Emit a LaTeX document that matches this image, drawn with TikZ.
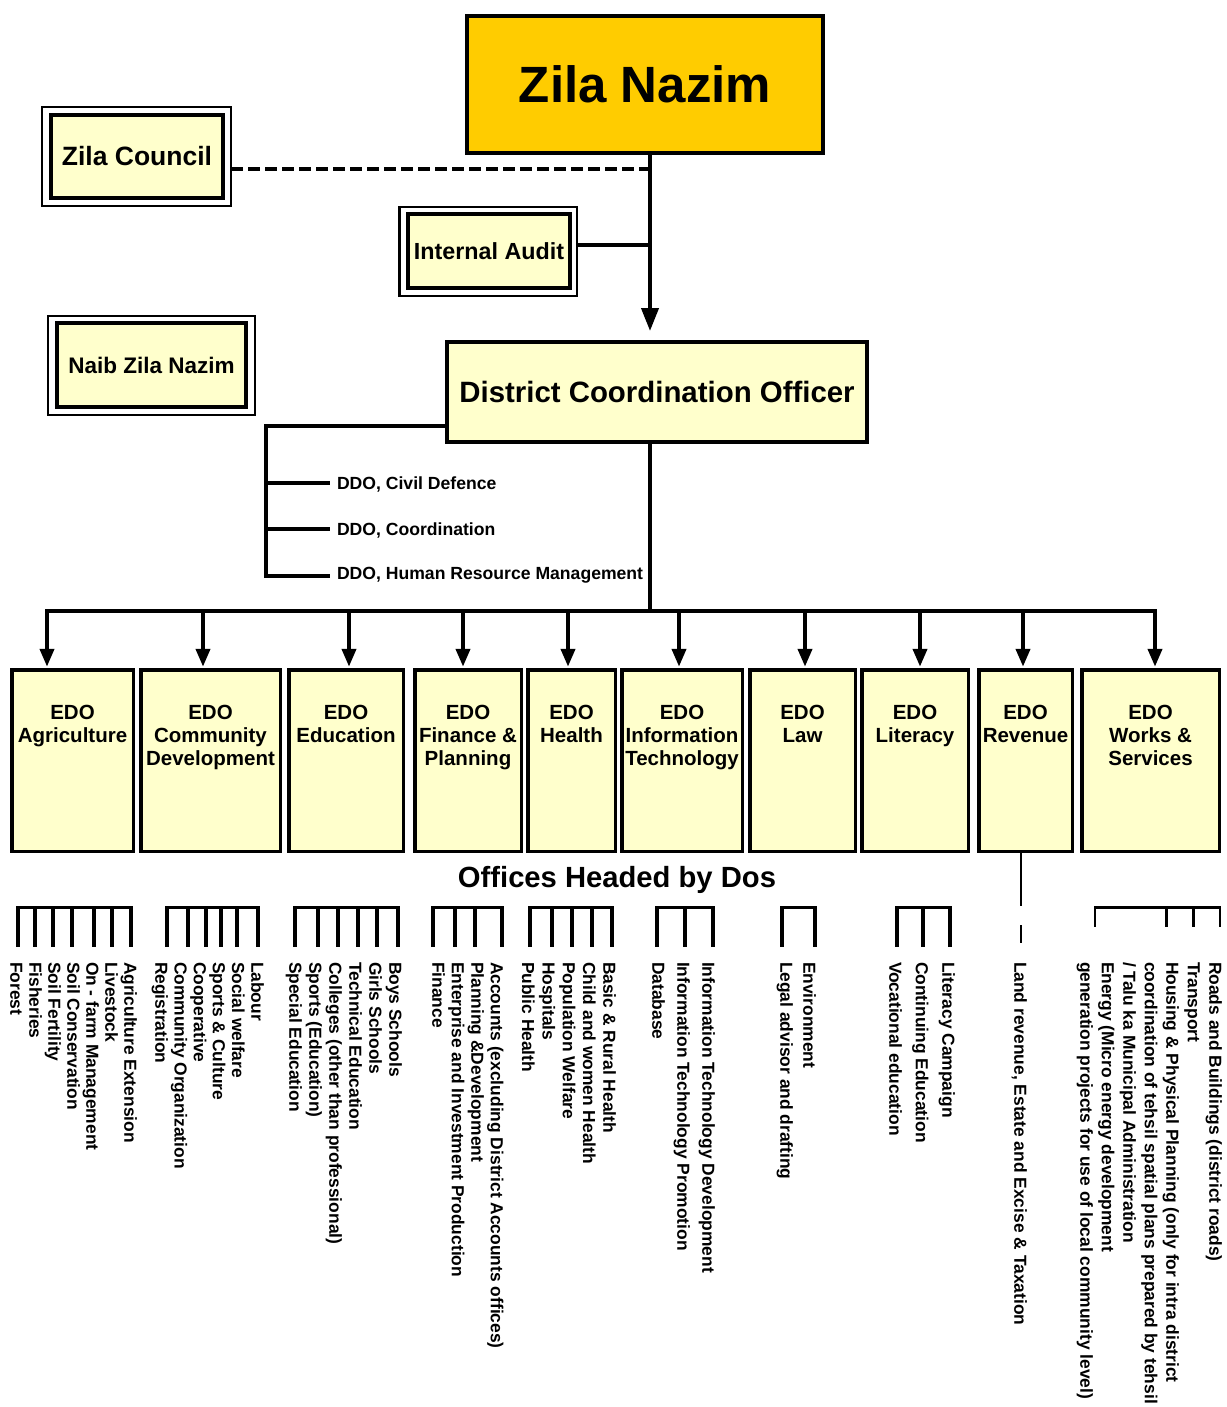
\documentclass[tikz,border=0pt]{standalone}
\usepackage{fontspec}
\setmainfont{Liberation Sans}
\usetikzlibrary{arrows.meta,calc}
\definecolor{lemon}{HTML}{FFFFCC}
\definecolor{gold}{HTML}{FFCC00}
\newcommand\mycomb[5]{%
  \draw[line width=#5, line cap=rect] (#2,907.5) -- (#3,907.5);
  \foreach \t in {#1} \draw[line width=#5] (\t,907.5) -- (\t,#4);
}
\begin{document}
\begin{tikzpicture}[x=1pt,y=-1pt,
  every node/.style={outer sep=0pt},
  conn/.style={line width=4pt},
  box/.style={draw, line width=3.5pt, fill=lemon, rectangle, inner sep=0pt},
  obox/.style={draw, line width=2.5pt, fill=white, rectangle, inner sep=0pt},
  edobox/.style={box, minimum height=181.5pt},
  edotext/.style={anchor=north, align=center, inner sep=0pt, font=\bfseries\fontsize{20.5}{23}\selectfont},
  ddo/.style={anchor=base west, inner xsep=7pt, inner ysep=0pt, font=\bfseries\fontsize{17.6}{20}\selectfont},
  item/.style={rotate=-90, anchor=north west, align=left, inner sep=0pt},
  arr/.style={conn, -{Triangle[length=18pt,width=14pt]}, shorten >=3pt},
]
\useasboundingbox (0,0) rectangle (1226,1407);

% top boxes
\node[box, fill=gold, line width=4.5pt, minimum width=356pt, minimum height=137pt,
  font=\bfseries\fontsize{51}{60}\selectfont] (zn) at (645,84.5) {Zila Nazim};

\node[obox, minimum width=189pt, minimum height=99pt] (zco) at (136.5,156.5) {};
\node[box, minimum width=172pt, minimum height=83pt,
  font=\bfseries\fontsize{26.5}{30}\selectfont] (zc) at (137,156.5) {Zila Council};

\node[obox, minimum width=177.5pt, minimum height=89pt] (iao) at (488.25,251.5) {};
\node[box, minimum width=162pt, minimum height=74pt,
  font=\bfseries\fontsize{23.3}{27}\selectfont] (ia) at (489,251) {Internal Audit};

\node[obox, minimum width=207pt, minimum height=99pt] (nzo) at (151.5,365.5) {};
\node[box, minimum width=189pt, minimum height=84pt,
  font=\bfseries\fontsize{22.5}{26}\selectfont] (nz) at (151.5,365) {Naib Zila Nazim};

\node[box, line width=4.5pt, minimum width=420pt, minimum height=100pt,
  font=\bfseries\fontsize{29.4}{34}\selectfont] (dco) at (657,392) {District Coordination Officer};

% connectors at top
\coordinate (vx) at (650,0);
\coordinate (k1) at (650,169);
\coordinate (k2) at (650,245);
\draw[conn, dash pattern=on 12pt off 5pt] (k1 -| zco.east) -- (k1);
\draw[conn] (iao.east |- k2) -- (k2);
\draw[conn, -{Triangle[length=23pt,width=17pt]}, shorten >=11pt] (vx |- zn.south) -- (vx |- dco.north);

% DDO branch
\node[ddo] (ddo1) at (330,489.3) {DDO, Civil Defence};
\node[ddo] (ddo2) at (330,535.3) {DDO, Coordination};
\node[ddo] (ddo3) at (330,579.3) {DDO, Human Resource Management};
\coordinate (j0) at (266,426);
\coordinate (j1) at (266,483);
\coordinate (j2) at (266,529);
\coordinate (j3) at (266,576);
\draw[conn] (dco.west |- j0) -- (j0) -- (j3) -- (j3 -| ddo3.west);
\draw[conn] (j1) -- (j1 -| ddo1.west);
\draw[conn] (j2) -- (j2 -| ddo2.west);

% EDO boxes
\foreach \i/\cx/\w/\ax/\txt in {
  1/72.5/121.5/47/{EDO\\Agriculture},
  2/210.5/139.5/203/{EDO\\Community\\Development},
  3/346/114.5/349/{EDO\\Education},
  4/468/106.5/463/{EDO\\Finance \&\\Planning},
  5/571.5/87.5/568/{EDO\\Health},
  6/682/120.5/679/{EDO\\Information\\Technology},
  7/802.5/105.5/805/{EDO\\Law},
  8/915/106.5/920/{EDO\\Literacy},
  9/1025.5/93.5/1023/{EDO\\Revenue},
  10/1150.5/137.5/1155/{EDO\\Works \&\\Services}}{
  \node[edobox, minimum width=\w pt] (edo\i) at (\cx,760.5) {};
  \node[edotext] (edt\i) at ([yshift=-35.85pt]edo\i.north) {\txt};
  \coordinate (a\i) at (\ax,611);
}
\draw[conn] (vx |- dco.south) -- (vx |- a1);
\draw[conn, line cap=rect] (a1) -- (a10);
\foreach \i in {1,...,10} \draw[arr] (a\i) -- (a\i |- edo\i.north);

\node[anchor=base, inner sep=0pt, font=\bfseries\fontsize{29.2}{34}\selectfont] (ohd) at (617,887.5) {Offices Headed by Dos};

% revenue line
\coordinate (rend) at (1021,943);
\draw[line width=2pt, dash pattern=on 55pt off 19pt on 20pt off 60pt] (rend |- edo9.south) -- (rend);

% combs
\mycomb{18,35,53,72,94,112,131}{18}{131}{946.7}{3.8pt}
\mycomb{166.7,188.3,205.7,221,237.3,258.3}{166.7}{258.3}{946.7}{3.8pt}
\mycomb{295,318.3,338.3,358.3,376.7,398.3}{295}{398.3}{946.7}{3.8pt}
\mycomb{433.3,455,475,501.7}{433.3}{501.7}{946.7}{3.8pt}
\mycomb{530,551.7,571.7,591.7,611.7}{530}{611.7}{946.7}{3.8pt}
\mycomb{656.7,685,712.7}{656.7}{712.7}{946.7}{3.8pt}
\mycomb{781.7,815}{781.7}{815}{946.7}{3.8pt}
\mycomb{896.7,923.3,950}{896.7}{950}{946.7}{3.8pt}
\mycomb{1095,1166.7,1193.3,1220}{1095}{1220}{926.7}{2.6pt}

% office lists
\node[item, font=\bfseries\fontsize{17.4}{19}\selectfont] (g1) at (137,962)
  {Agriculture Extension\\Livestock\\On - farm Management\\Soil Conservation\\Soil Fertility\\Fisheries\\Forest};
\node[item, font=\bfseries\fontsize{17.4}{19.2}\selectfont] (g2) at (264,962)
  {Labour\\Social welfare\\Sports \& Culture\\Cooperative\\Community Organization\\Registration};
\node[item, font=\bfseries\fontsize{17.4}{20}\selectfont] (g3) at (402,962)
  {Boys Schools\\Girls Schools\\Technical Education\\Colleges (other than professional)\\Sports (Education)\\Special Education};
\node[item, font=\bfseries\fontsize{17.4}{19.5}\selectfont] (g4) at (503.5,962)
  {Accounts (excluding District Accounts offices)\\Planning \&Development\\Enterprise and Investment Production\\Finance};
\node[item, font=\bfseries\fontsize{17.4}{20.3}\selectfont] (g5) at (616,962)
  {Basic \& Rural Health\\Child and women Health\\Population Welfare\\Hospitals\\Public Health};
\node[item, font=\bfseries\fontsize{17.4}{25}\selectfont] (g6) at (715,962)
  {Information Technology Development\\Information Technology Promotion\\Database};
\node[item, font=\bfseries\fontsize{17.4}{23}\selectfont] (g7) at (816,962)
  {Environment\\Legal advisor and drafting};
\node[item, font=\bfseries\fontsize{17.4}{26.5}\selectfont] (g8) at (955,962)
  {Literacy Campaign\\Continuing Education\\Vocational education};
\node[item, font=\bfseries\fontsize{17.4}{20}\selectfont] (g9) at (1027,962)
  {Land revenue, Estate and Excise \& Taxation};
\node[item, font=\bfseries\fontsize{17.4}{21.5}\selectfont] (g10) at (1222,962)
  {Roads and Buildings (district roads)\\Transport\\Housing \& Physical Planning (only for intra district\\coordination of tehsil spatial plans prepared by tehsil\\/ Talu ka Municipal Administration\\Energy (Micro energy development\\generation projects for use of local community level)};
\end{tikzpicture}
\end{document}
